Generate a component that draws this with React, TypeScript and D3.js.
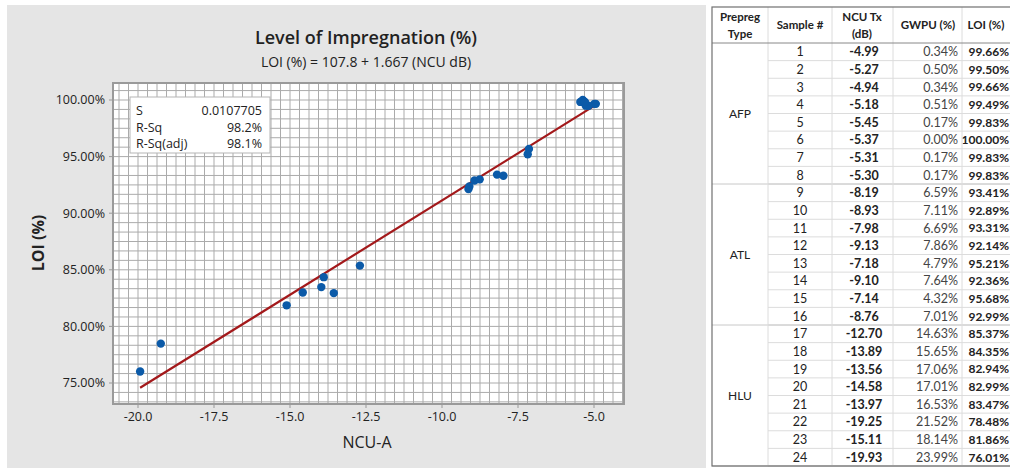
import * as d3 from 'd3';

// table / scatter data
const prepregTypes = ['AFP', 'ATL', 'HLU'];
const sampleNo = d3.range(1, 25);
const typeOf = ['AFP', 'AFP', 'AFP', 'AFP', 'AFP', 'AFP', 'AFP', 'AFP',
    'ATL', 'ATL', 'ATL', 'ATL', 'ATL', 'ATL', 'ATL', 'ATL',
    'HLU', 'HLU', 'HLU', 'HLU', 'HLU', 'HLU', 'HLU', 'HLU'];
const ncuTx = [-4.99, -5.27, -4.94, -5.18, -5.45, -5.37, -5.31, -5.30,
    -8.19, -8.93, -7.98, -9.13, -7.18, -9.10, -7.14, -8.76,
    -12.70, -13.89, -13.56, -14.58, -13.97, -19.25, -15.11, -19.93];
const gwpu = [0.34, 0.50, 0.34, 0.51, 0.17, 0.00, 0.17, 0.17,
    6.59, 7.11, 6.69, 7.86, 4.79, 7.64, 4.32, 7.01,
    14.63, 15.65, 17.06, 17.01, 16.53, 21.52, 18.14, 23.99];
const loi = [99.66, 99.50, 99.66, 99.49, 99.83, 100.00, 99.83, 99.83,
    93.41, 92.89, 93.31, 92.14, 95.21, 92.36, 95.68, 92.99,
    85.37, 84.35, 82.94, 82.99, 83.47, 78.48, 81.86, 76.01];

// regression
const intercept = 107.8;
const slope = 1.667;
const xTicks = [-20, -17.5, -15, -12.5, -10, -7.5, -5];
const yTicks = [75, 80, 85, 90, 95, 100];
const stats = [['S', '0.0107705'], ['R-Sq', '98.2%'], ['R-Sq(adj)', '98.1%']];

const PLOT = { left: 113, right: 624, top: 83, bottom: 404 };
const CHART_FONT = '"Open Sans", "Noto Sans", sans-serif';
const TABLE_FONT = 'Lato, "Open Sans", sans-serif';
const COLS = [712, 768, 832, 893, 962, 1040];

const ScatterPanel = () => {
    const xScale = d3.scaleLinear().domain([-20, -5]).range([138, 594]);
    const yScale = d3.scaleLinear().domain([75, 100]).range([383, 100]);
    const x0 = xScale.invert(PLOT.left);
    const x1 = xScale.invert(PLOT.right);
    const y0 = yScale.invert(PLOT.bottom);
    const y1 = yScale.invert(PLOT.top);

    // graph-paper grid tied to the tick spacing
    const xGrid = d3.range(Math.ceil((x0 + 20) / 0.3125), Math.floor((x1 + 20) / 0.3125) + 1)
        .map((k) => -20 + k * 0.3125);
    const yGrid = d3.range(Math.ceil((y0 - 75) / (5 / 6)), Math.floor((y1 - 75) / (5 / 6)) + 1)
        .map((k) => 75 + k * (5 / 6));

    const xmin = d3.min(ncuTx) ?? -20;
    const xmax = d3.max(ncuTx) ?? -5;
    const line = d3.line<number>()
        .x((d) => xScale(d))
        .y((d) => yScale(intercept + slope * d));

    return (
        <g>
            <rect x={7} y={5} width={699} height={470} fill="#e5e5e5" />
            <text x={366} y={44} textAnchor="middle" fontSize={18} fontWeight={600} fill="#222">
                Level of Impregnation (%)
            </text>
            <text x={366} y={67} textAnchor="middle" fontSize={14} fill="#222">
                LOI (%) = 107.8 + 1.667 (NCU dB)
            </text>
            <rect x={PLOT.left} y={PLOT.top} width={PLOT.right - PLOT.left} height={PLOT.bottom - PLOT.top} fill="#fff" />
            {xGrid.map((v, i) => (
                <line key={'gx' + i} x1={xScale(v)} x2={xScale(v)} y1={PLOT.top} y2={PLOT.bottom} stroke="#ababab" strokeWidth={1} />
            ))}
            {yGrid.map((v, i) => (
                <line key={'gy' + i} x1={PLOT.left} x2={PLOT.right} y1={yScale(v)} y2={yScale(v)} stroke="#ababab" strokeWidth={1} />
            ))}
            <rect x={PLOT.left} y={PLOT.top} width={PLOT.right - PLOT.left} height={PLOT.bottom - PLOT.top} fill="none" stroke="#9a9a9a" strokeWidth={2} />
            {xTicks.map((v) => (
                <g key={'xt' + v}>
                    <line x1={xScale(v)} x2={xScale(v)} y1={PLOT.bottom} y2={PLOT.bottom + 4} stroke="#999" />
                    <text x={xScale(v)} y={421} textAnchor="middle" fontSize={12.5} fill="#222">{v.toFixed(1)}</text>
                </g>
            ))}
            {yTicks.map((v) => (
                <g key={'yt' + v}>
                    <line x1={PLOT.left - 4} x2={PLOT.left} y1={yScale(v)} y2={yScale(v)} stroke="#999" />
                    <text x={105} y={yScale(v)} dy="0.35em" textAnchor="end" fontSize={12.5} fill="#222">{v.toFixed(2)}%</text>
                </g>
            ))}
            <text x={367} y={448} textAnchor="middle" fontSize={16} fill="#222">NCU-A</text>
            <text transform="translate(44,243) rotate(-90)" textAnchor="middle" fontSize={16} fontWeight={700} fill="#222">LOI (%)</text>

            <path d={line([xmin, xmax]) ?? ''} fill="none" stroke="#a3191b" strokeWidth={2.2} />
            {ncuTx.map((v, i) => (
                <circle key={'pt' + i} cx={xScale(v)} cy={yScale(loi[i])} r={4.2} fill="#0b5aa8" />
            ))}

            <rect x={130} y={97} width={140} height={56} fill="#fff" stroke="#b5b5b5" />
            {stats.map(([k, v], i) => (
                <g key={k}>
                    <text x={136} y={115 + i * 16.5} fontSize={12.5} fill="#222">{k}</text>
                    <text x={262} y={115 + i * 16.5} textAnchor="end" fontSize={12.5} fill="#222">{v}</text>
                </g>
            ))}
        </g>
    );
};

const DataTable = () => {
    const rowScale = d3.scaleBand<number>().domain(sampleNo).range([43, 466]);
    const bw = rowScale.bandwidth();
    const groups = prepregTypes.map((t) => {
        const rows = sampleNo.filter((_, i) => typeOf[i] === t);
        const top = rowScale(rows[0]) ?? 0;
        const bottom = (rowScale(rows[rows.length - 1]) ?? 0) + bw;
        return { t, top, bottom };
    });

    return (
        <g fontFamily={TABLE_FONT} fill="#222">
            <rect x={COLS[0]} y={7} width={400} height={459} fill="#fff" />
            {sampleNo.map((s, i) => {
                const y = (rowScale(s) ?? 0) + bw / 2;
                return (
                    <g key={'r' + s}>
                        <line x1={COLS[1]} x2={1010} y1={(rowScale(s) ?? 0) + bw} y2={(rowScale(s) ?? 0) + bw} stroke="#dcdcdc" />
                        <text x={(COLS[1] + COLS[2]) / 2} y={y} dy="0.36em" textAnchor="middle" fontSize={12.5}>{s}</text>
                        <text x={864} y={y} dy="0.36em" textAnchor="middle" fontSize={12.5} fontWeight={700}>{ncuTx[i].toFixed(2)}</text>
                        <text x={958} y={y} dy="0.36em" textAnchor="end" fontSize={12.5} fill="#444">{gwpu[i].toFixed(2)}%</text>
                        <text x={1009} y={y} dy="0.36em" textAnchor="end" fontSize={12} fontWeight={700}>{loi[i].toFixed(2)}%</text>
                    </g>
                );
            })}
            {groups.map((g) => (
                <g key={g.t}>
                    <line x1={COLS[0]} x2={1010} y1={g.bottom} y2={g.bottom} stroke="#c8c8c8" />
                    <text x={(COLS[0] + COLS[1]) / 2} y={(g.top + g.bottom) / 2} dy="0.36em" textAnchor="middle" fontSize={12}>{g.t}</text>
                </g>
            ))}
            {COLS.slice(1, 5).map((c) => (
                <line key={'c' + c} x1={c} x2={c} y1={7} y2={466} stroke="#dcdcdc" />
            ))}
            <line x1={COLS[0]} x2={1010} y1={43} y2={43} stroke="#888" />
            <g fontSize={11.5} fontWeight={700} textAnchor="middle">
                <text x={740} y={21}>Prepreg</text>
                <text x={740} y={38}>Type</text>
                <text x={800} y={29}>Sample #</text>
                <text x={862} y={21}>NCU Tx</text>
                <text x={862} y={38}>(dB)</text>
                <text x={928} y={29}>GWPU (%)</text>
                <text x={986} y={29}>LOI (%)</text>
            </g>
            <rect x={COLS[0]} y={7} width={400} height={459} fill="none" stroke="#707070" strokeWidth={1.2} />
        </g>
    );
};

export default function App() {
    return (
        <div style={{ position: 'absolute', left: 0, top: 0 }}>
            <svg width={1010} height={468} fontFamily={CHART_FONT} style={{ display: 'block', background: '#fff' }}>
                <ScatterPanel />
                <DataTable />
            </svg>
        </div>
    );
}
